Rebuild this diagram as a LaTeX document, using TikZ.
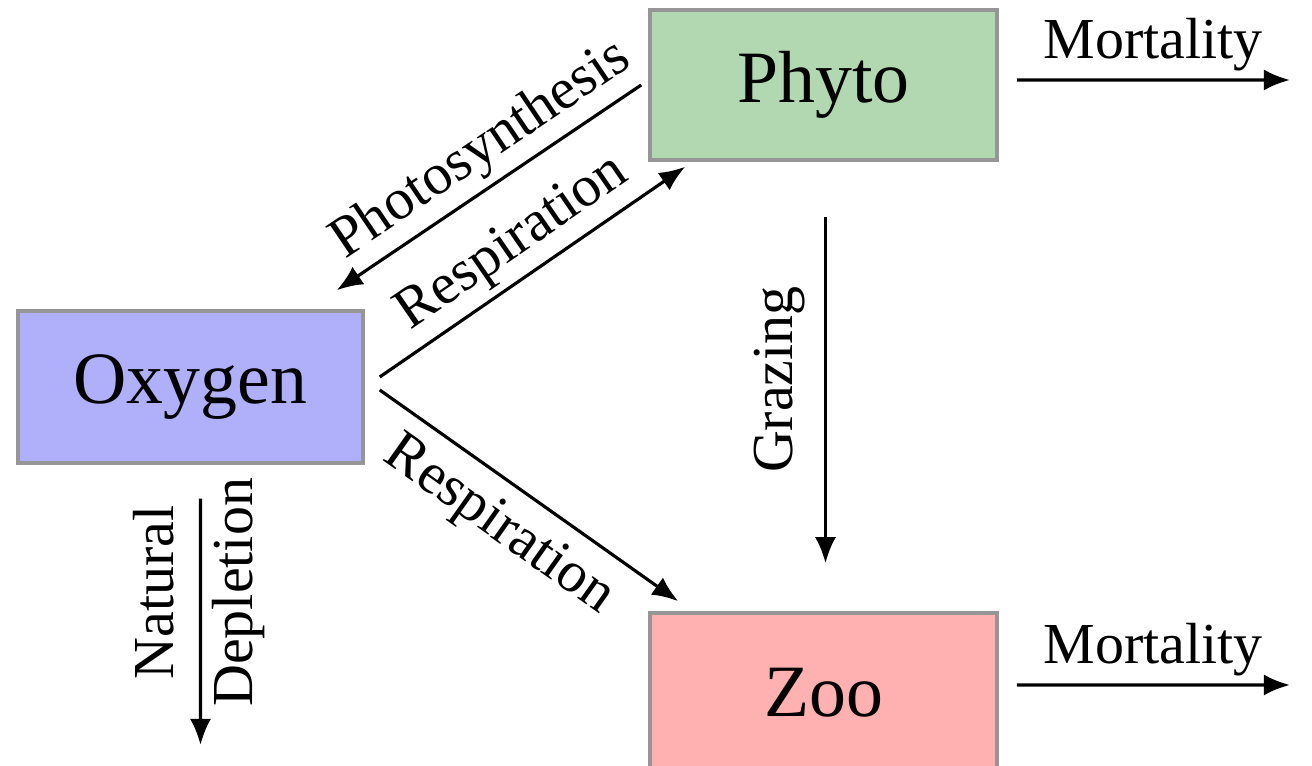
\documentclass[tikz,border=0pt]{standalone}
\usepackage{fontspec}
\setmainfont{Liberation Serif}
\usepackage{xcolor}
\usepackage{tikz}
\usetikzlibrary{arrows.meta}

\definecolor{phytogreen}{RGB}{178,216,178}
\definecolor{oxyblue}{RGB}{176,176,250}
\definecolor{zoored}{RGB}{255,176,176}
\definecolor{boxgray}{RGB}{150,150,150}

\begin{document}
\begin{tikzpicture}[
    block/.style={rectangle, draw=boxgray, line width=1pt, minimum width=3.47cm, minimum height=1.5cm, font=\rmfamily\fontsize{21}{25}\selectfont},
    line/.style={draw, -{Latex[length=2.6mm,width=2.1mm]}, line width=0.9pt},
    lbl/.style={font=\rmfamily\fontsize{16.5}{19}\selectfont, inner sep=2pt}
]
\useasboundingbox (0,0) rectangle (13.12,7.66);

\node [block, fill=phytogreen] (phyto) at (8.235,6.81) {Phyto};
\node [block, fill=oxyblue, minimum width=3.45cm, minimum height=1.52cm] (oxygen) at (1.905,3.79) {Oxygen};
\node [block, fill=zoored, minimum height=1.6cm] (zoo) at (8.235,0.73) {Zoo};

\coordinate (deadphyto) at (12.9,6.86);
\coordinate (deadzoo) at (12.9,0.81);
\coordinate (depleted) at (2.005,0.21);

\path [line] ([xshift=-0.7mm]phyto.west) -- node [pos=0.46, above, sloped, lbl] {Photosynthesis} ([xshift=-2.8mm,yshift=1.9mm]oxygen.north east);
\path [line] ([xshift=1.5mm,yshift=1mm]oxygen.east) -- node [above, sloped, lbl] {Respiration} ([xshift=3.7mm,yshift=-0.5mm]phyto.south west);
\path [line] ([xshift=1.5mm,yshift=-0.3mm]oxygen.east) -- node [pos=0.48, below, sloped, lbl, inner sep=4.5pt] {Respiration} ([xshift=3mm,yshift=1mm]zoo.north west);

\path [line] ([xshift=0.2mm,yshift=-5.5mm]phyto.south) -- node [pos=0.47, anchor=south, rotate=90, lbl, inner sep=5.5pt] {Grazing} ([xshift=0.2mm,yshift=4.8mm]zoo.north);
\path [line] ([xshift=1mm,yshift=-3.4mm]oxygen.south) -- node [pos=0.38, anchor=south, rotate=90, lbl, inner sep=7pt] {Natural} node [pos=0.38, anchor=north, rotate=90, lbl, inner sep=3pt] {Depletion} (depleted);

\path [line] ([xshift=1.8mm,yshift=0.5mm]phyto.east) -- node [above, lbl] {Mortality} (deadphyto);
\path [line] ([xshift=1.8mm,yshift=0.8mm]zoo.east) -- node [above, lbl] {Mortality} (deadzoo);

\end{tikzpicture}
\end{document}
